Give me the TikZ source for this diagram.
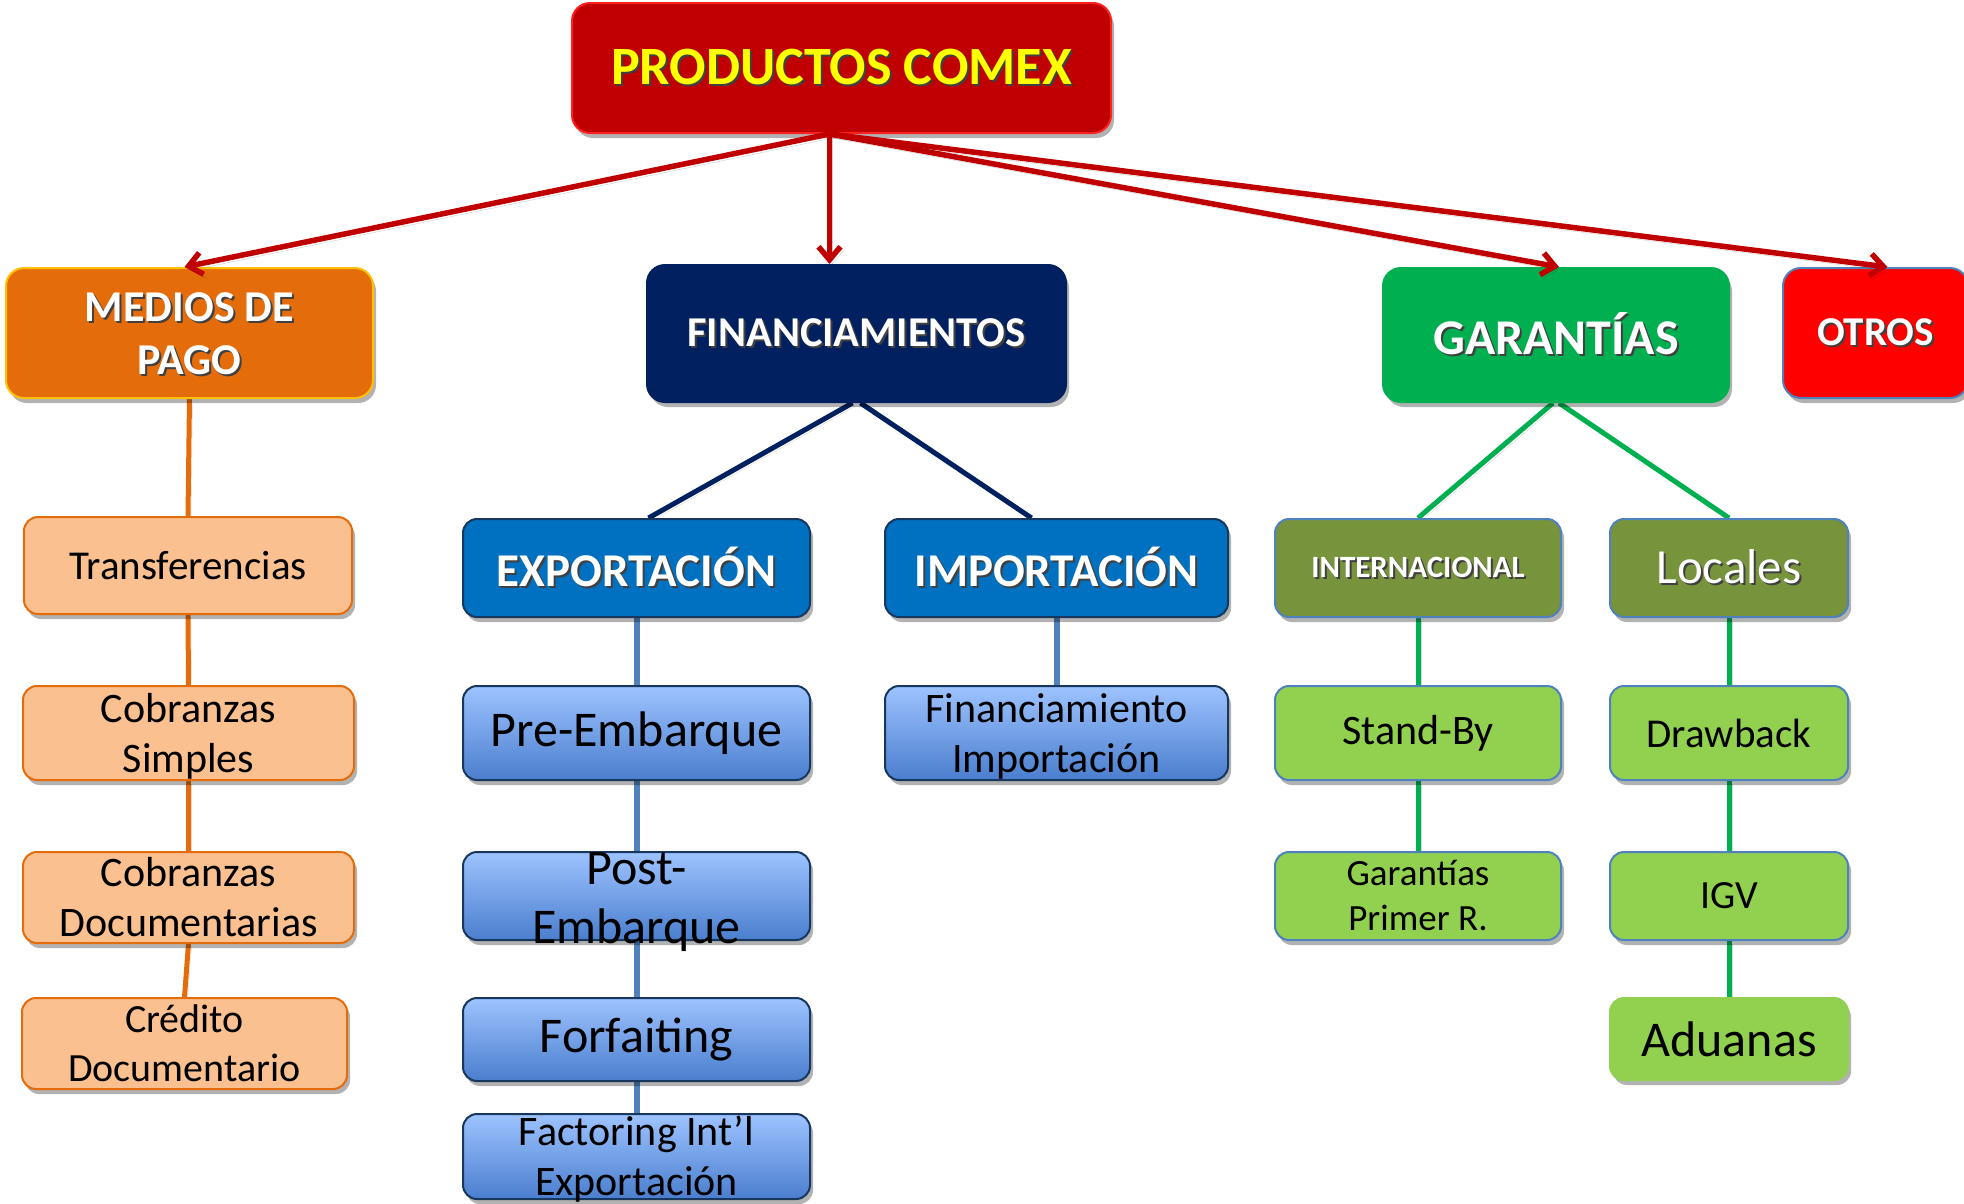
\documentclass[tikz,border=0pt]{standalone}
\usepackage{fontspec}
\setmainfont{Carlito}
\usetikzlibrary{arrows.meta,shadows,backgrounds}
\definecolor{cRed}{HTML}{C00000}
\definecolor{cRedB}{HTML}{FF2020}
\definecolor{cOrange}{HTML}{E46C0A}
\definecolor{cOrangeB}{HTML}{FFC000}
\definecolor{cNavy}{HTML}{002060}
\definecolor{cGreen}{HTML}{00B050}
\definecolor{cOtros}{HTML}{FF0000}
\definecolor{cSteel}{HTML}{4F81BD}
\definecolor{cPeach}{HTML}{FAC090}
\definecolor{cBlue}{HTML}{0070C0}
\definecolor{cBlueB}{HTML}{17375E}
\definecolor{gTop}{HTML}{9EC3FF}
\definecolor{gBot}{HTML}{4A7ECE}
\definecolor{cOlive}{HTML}{77933C}
\definecolor{cLime}{HTML}{92D050}
\definecolor{cYellow}{HTML}{FFFF00}
\newcommand\tsh[1]{\makebox[0pt][l]{\kern2pt\raisebox{-2pt}{\textcolor{black!75}{#1}}}#1}
\newcommand\fsz[2]{\fontsize{#1pt}{#2pt}\selectfont}
% two centred lines, not enlarging the box
\newcommand\twol[2]{\smash{\raisebox{-0.25em}{\begin{tabular}[c]{@{}c@{}}#1\\#2\end{tabular}}}}
\tikzset{
  box/.style={rectangle, rounded corners=14pt, inner sep=0pt, align=center, line width=2pt,
    drop shadow={shadow xshift=3pt, shadow yshift=-5pt, opacity=0.3, fill=black}},
  bigbox/.style={box, rounded corners=18pt},
  peach/.style={box, fill=cPeach, draw=cOrange, text=black},
  gblue/.style={box, top color=gTop, bottom color=gBot, draw=cBlueB, text=black},
  dblue/.style={box, fill=cBlue, draw=cBlueB, text=white},
  olive/.style={box, fill=cOlive, draw=cSteel, text=white},
  lime/.style={box, fill=cLime, draw=cSteel, text=black},
  redarrow/.style={draw=cRed, line width=5.5pt, -{Straight Barb[length=13pt,width=22pt]},
    preaction={draw=black, opacity=0.2, transform canvas={shift={(3pt,-4pt)}}}},
  conn/.style={line width=5pt,
    preaction={draw=black, opacity=0.15, transform canvas={shift={(3pt,-3pt)}}}}
}
\begin{document}
\begin{tikzpicture}[x=1pt,y=-1pt]
\useasboundingbox (0,0) rectangle (1964,1203);
% top level
\node[bigbox, fill=cRed, draw=cRedB, text=cYellow, minimum width=539pt, minimum height=130pt, font=\bfseries\fsz{54}{62}] (pc) at (841.5,68) {\tsh{PRODUCTOS COMEX}};
\node[bigbox, fill=cOrange, draw=cOrangeB, text=white, minimum width=367pt, minimum height=130pt, font=\bfseries\fsz{44}{53}] (mp) at (189.5,333) {\twol{\tsh{MEDIOS DE}}{\tsh{PAGO}}};
\node[bigbox, fill=cNavy, draw=cNavy, text=white, minimum width=419pt, minimum height=137pt, font=\bfseries\fsz{42.5}{50}] (fin) at (856.5,333.5) {\tsh{FINANCIAMIENTOS}};
\node[bigbox, fill=cGreen, draw=cGreen, text=white, minimum width=346pt, minimum height=134pt, font=\bfseries\fsz{50}{60}] (gar) at (1556,335) {\tsh{GARANTÍAS}};
\node[bigbox, fill=cOtros, draw=cSteel, text=white, minimum width=185pt, minimum height=130pt, font=\bfseries\fsz{41}{50}] (ot) at (1875.5,333) {\tsh{OTROS}};
% medios de pago
\node[peach, minimum width=328pt, minimum height=97pt, font=\fsz{41}{50}] (tr) at (188,565.5) {Transferencias};
\node[peach, minimum width=331pt, minimum height=94pt, font=\fsz{42}{50}] (cs) at (188.5,733) {\twol{Cobranzas}{Simples}};
\node[peach, minimum width=331pt, minimum height=91pt, font=\fsz{42}{50}] (cd) at (188.5,897.5) {\twol{Cobranzas}{Documentarias}};
\node[peach, minimum width=325pt, minimum height=91pt, font=\fsz{40}{49}] (cr) at (184.5,1043.5) {\twol{Crédito}{Documentario}};
% exportacion
\node[dblue, minimum width=347pt, minimum height=98pt, font=\bfseries\fsz{47}{56}] (ex) at (636.5,568) {\tsh{EXPORTACIÓN}};
\node[gblue, minimum width=347pt, minimum height=94pt, font=\fsz{50}{60}] (pe) at (636.5,733) {Pre-Embarque};
\node[gblue, minimum width=347pt, minimum height=88pt, font=\fsz{50}{59}] (po) at (636.5,896) {\twol{Post-}{Embarque}};
\node[gblue, minimum width=347pt, minimum height=83pt, font=\fsz{50}{60}] (fo) at (636.5,1039.5) {Forfaiting};
\node[gblue, minimum width=347pt, minimum height=85pt, font=\fsz{42}{50}] (fa) at (636.5,1156.5) {\twol{Factoring Int’l}{Exportación}};
% importacion
\node[dblue, minimum width=343pt, minimum height=98pt, font=\bfseries\fsz{47}{56}] (im) at (1056.5,568) {\tsh{IMPORTACIÓN}};
\node[gblue, minimum width=343pt, minimum height=94pt, font=\fsz{42}{50}] (fi) at (1056.5,733) {\twol{Financiamiento}{Importación}};
% garantias
\node[olive, minimum width=286pt, minimum height=98pt, font=\bfseries\fsz{31}{38}] (in) at (1418,568) {\tsh{INTERNACIONAL}};
\node[olive, minimum width=238pt, minimum height=98pt, font=\fsz{49}{58}] (lo) at (1729,568) {\tsh{Locales}};
\node[lime, minimum width=286pt, minimum height=94pt, font=\fsz{42}{50}] (sb) at (1418,733) {Stand-By};
\node[lime, minimum width=286pt, minimum height=88pt, font=\fsz{37}{45}] (gp) at (1418,896) {\twol{Garantías}{Primer R.}};
\node[lime, minimum width=238pt, minimum height=94pt, font=\fsz{41}{50}] (dr) at (1729,733) {Drawback};
\node[lime, minimum width=238pt, minimum height=88pt, font=\fsz{40}{48}] (ig) at (1729,896) {IGV};
\node[lime, draw=cLime, minimum width=238pt, minimum height=82pt, font=\fsz{50}{60}] (ad) at (1729,1039) {Aduanas};
% arrows from top
\coordinate (o) at ([xshift=-12pt]pc.south);
\draw[redarrow] (o) -- ([xshift=-5pt]mp.north);
\draw[redarrow] (o) -- (o |- fin.north);
\draw[redarrow] (o) -- ([xshift=3pt]gar.north);
\draw[redarrow] (o) -- ([xshift=12pt]ot.north);
% connectors
\begin{scope}[on background layer]
\draw[conn, cOrange] (mp.south) -- (tr.north);
\draw[conn, cOrange] (tr.south) -- (cs.north);
\draw[conn, cOrange] (cs.south) -- (cd.north);
\draw[conn, cOrange] (cd.south) -- (cr.north);
\draw[conn, cNavy] ([xshift=-4pt]fin.south) -- ([xshift=12pt]ex.north);
\draw[conn, cNavy] ([xshift=4pt]fin.south) -- ([xshift=-25pt]im.north);
\draw[conn, cSteel, line width=6pt] (ex.south) -- (pe.north);
\draw[conn, cSteel, line width=6pt] (pe.south) -- (po.north);
\draw[conn, cSteel, line width=6pt] (po.south) -- (fo.north);
\draw[conn, cSteel, line width=6pt] (fo.south) -- (fa.north);
\draw[conn, cSteel, line width=6pt] (im.south) -- (fi.north);
\draw[conn, cGreen] ([xshift=-3pt]gar.south) -- (in.north);
\draw[conn, cGreen] ([xshift=3pt]gar.south) -- (lo.north);
\draw[conn, cGreen] (in.south) -- (sb.north);
\draw[conn, cGreen] (sb.south) -- (gp.north);
\draw[conn, cGreen] (lo.south) -- (dr.north);
\draw[conn, cGreen] (dr.south) -- (ig.north);
\draw[conn, cGreen] (ig.south) -- (ad.north);
\end{scope}
\end{tikzpicture}
\end{document}
